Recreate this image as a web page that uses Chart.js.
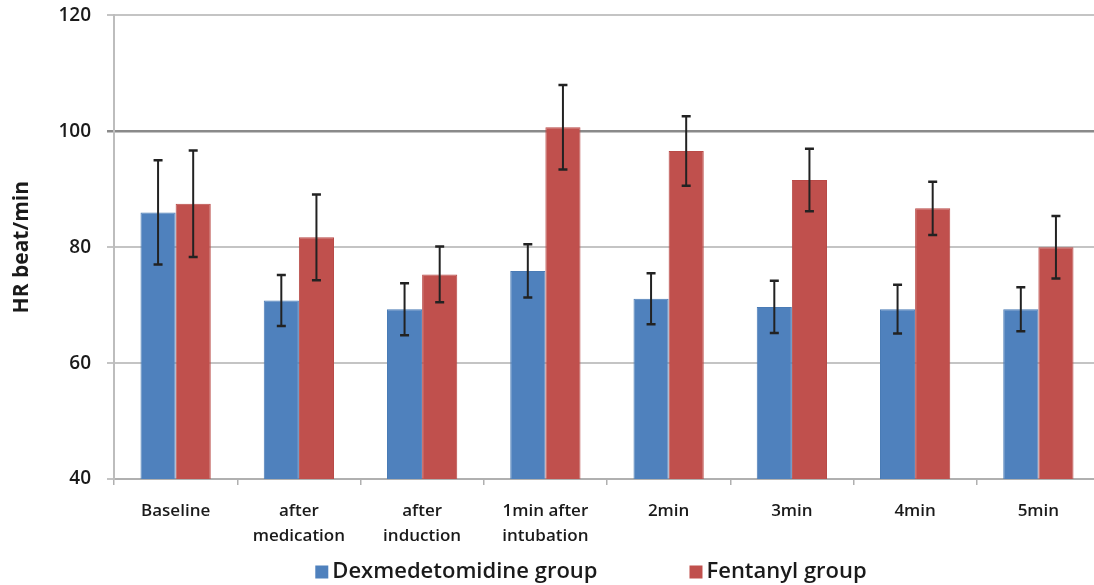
<!DOCTYPE html>
<html>
<head>
<meta charset="utf-8">
<script src="https://cdn.jsdelivr.net/npm/chart.js@4"></script>
<style>
  html, body { margin: 0; padding: 0; background: #ffffff; overflow: hidden; }
  #wrap { width: 1094px; height: 585px; overflow: hidden; }
  canvas { display: block; margin-top: -12px; }
</style>
</head>
<body>
<div id="wrap"><canvas id="hr" width="1100" height="600"></canvas></div>
<script>
// Heart rate (beat/min) at each time point, mean and SD per group
const categories = ['Baseline', ['after', 'medication'], ['after', 'induction'], ['1min after', 'intubation'], '2min', '3min', '4min', '5min'];
const seriesNames = ['Dexmedetomidine group', 'Fentanyl group'];
const dexMean = [86.0, 70.8, 69.3, 75.9, 71.1, 69.7, 69.3, 69.3];
const dexSD   = [9.0, 4.4, 4.5, 4.6, 4.4, 4.5, 4.2, 3.8];
const fenMean = [87.5, 81.7, 75.3, 100.7, 96.6, 91.6, 86.7, 80.0];
const fenSD   = [9.2, 7.4, 4.8, 7.3, 6.0, 5.4, 4.6, 5.4];
const yTicks  = [40, 60, 80, 100, 120];

const BLUE = '#4f81bd';
const RED = '#c0504d';
const TEXT = '#1a1a1a';

// Error bars (mean ± SD) drawn on top of each bar
const errorBars = {
  id: 'errorBars',
  afterDatasetsDraw(chart) {
    const ctx = chart.ctx;
    const y = chart.scales.y;
    chart.data.datasets.forEach((ds, i) => {
      const meta = chart.getDatasetMeta(i);
      meta.data.forEach((bar, j) => {
        const m = ds.data[j], s = ds.sd[j];
        const top = y.getPixelForValue(m + s);
        const bot = y.getPixelForValue(m - s);
        const x = bar.x;
        ctx.save();
        ctx.strokeStyle = '#222222';
        ctx.lineWidth = 2;
        ctx.beginPath();
        ctx.moveTo(x, top); ctx.lineTo(x, bot);
        ctx.stroke();
        ctx.lineWidth = 2.5;
        ctx.beginPath();
        ctx.moveTo(x - 4.5, top); ctx.lineTo(x + 4.5, top);
        ctx.moveTo(x - 4.5, bot); ctx.lineTo(x + 4.5, bot);
        ctx.stroke();
        ctx.restore();
      });
    });
  }
};

// Legend row under the category labels
const bottomLegend = {
  id: 'bottomLegend',
  afterDraw(chart) {
    const ctx = chart.ctx;
    ctx.save();
    ctx.font = '600 22px "Open Sans", sans-serif';
    ctx.textBaseline = 'middle';
    const sq = 13, gap = 4, itemGap = 92;
    const items = chart.data.datasets.map(ds => ({ label: ds.label, color: ds.backgroundColor, w: ctx.measureText(ds.label).width }));
    const total = items.reduce((a, it) => a + sq + gap + it.w, 0) + itemGap * (items.length - 1);
    let x = 591 - total / 2;
    const cy = chart.chartArea.bottom + 93;
    items.forEach(it => {
      ctx.fillStyle = it.color;
      ctx.fillRect(x, cy - sq / 2, sq, sq);
      x += sq + gap;
      ctx.fillStyle = TEXT;
      ctx.fillText(it.label, x, cy);
      x += it.w + itemGap;
    });
    ctx.restore();
  }
};

new Chart(document.getElementById('hr'), {
  type: 'bar',
  data: {
    labels: categories,
    datasets: [
      { label: seriesNames[0], data: dexMean, sd: dexSD, backgroundColor: BLUE, borderColor: '#4a7bb5', borderWidth: 1 },
      { label: seriesNames[1], data: fenMean, sd: fenSD, backgroundColor: RED, borderColor: '#b94a47', borderWidth: 1 }
    ]
  },
  options: {
    responsive: false,
    animation: false,
    devicePixelRatio: 1,
    layout: { padding: { top: 3, right: 0, bottom: 0, left: 0 } },
    datasets: { bar: { categoryPercentage: 0.57, barPercentage: 1.0 } },
    plugins: { legend: { display: false }, tooltip: { enabled: false } },
    scales: {
      x: {
        offset: true,
        grid: { offset: true, drawOnChartArea: false, drawTicks: true, tickLength: 6, color: '#b0b0b0', lineWidth: 1.5 },
        border: { display: true, color: '#b0b0b0', width: 2 },
        ticks: {
          color: TEXT,
          font: { family: '"Open Sans", sans-serif', size: 17, weight: '600', lineHeight: '25px' },
          padding: 14,
          maxRotation: 0,
          autoSkip: false
        },
        afterFit(scale) { scale.height = 109; }
      },
      y: {
        min: 40,
        max: 120,
        afterBuildTicks(scale) { scale.ticks = yTicks.map(v => ({ value: v })); },
        grid: {
          color: ctx => (ctx.tick && ctx.tick.value === 100) ? '#8a8a8a' : '#c4c4c4',
          lineWidth: ctx => (ctx.tick && ctx.tick.value === 100) ? 2.5 : 2,
          drawTicks: true,
          tickLength: 7
        },
        border: { display: true, color: '#bdbdbd', width: 2 },
        ticks: {
          color: TEXT,
          font: { family: '"Open Sans", sans-serif', size: 19, weight: '600' },
          padding: 16
        },
        title: {
          display: true,
          text: 'HR beat/min',
          color: TEXT,
          font: { family: '"Open Sans", sans-serif', size: 21, weight: 'bold' },
          padding: { top: 9, bottom: 0 }
        },
        afterFit(scale) { scale.width = 114; }
      }
    }
  },
  plugins: [errorBars, bottomLegend]
});
</script>
</body>
</html>
